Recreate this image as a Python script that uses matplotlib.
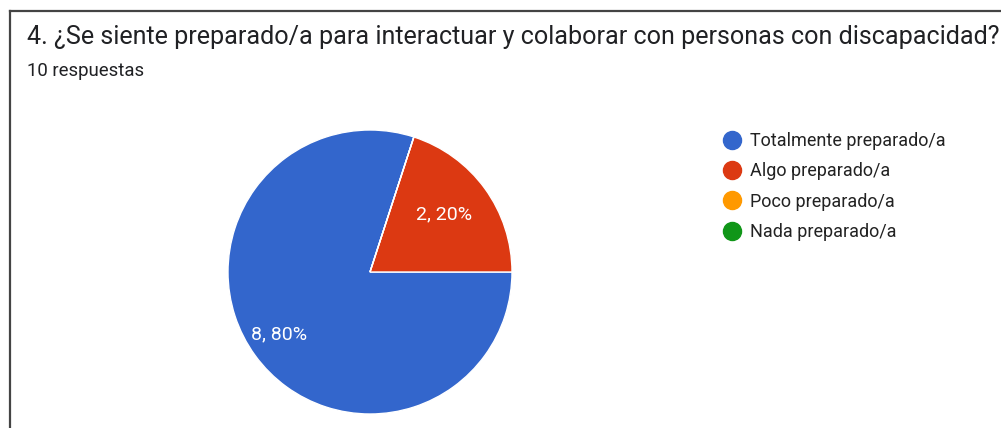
import matplotlib
matplotlib.use('Agg')
import numpy as np
import matplotlib.pyplot as plt
from matplotlib.lines import Line2D

plt.rcParams['font.family'] = ['Roboto', 'DejaVu Sans']

title = '4. ¿Se siente preparado/a para interactuar y colaborar con personas con discapacidad?'
subtitle = '10 respuestas'
categories = ['Totalmente preparado/a', 'Algo preparado/a', 'Poco preparado/a', 'Nada preparado/a']
counts = [8, 2, 0, 0]
colors = ['#3366cc', '#dc3912', '#ff9900', '#109618']

W, H = 1001, 428
fig = plt.figure(figsize=(W / 100, H / 100), dpi=100)

# card frame (only left and top edges are in view)
fig.add_artist(Line2D([10 / W, 10 / W], [0, 1 - 11 / H], color='#444444', lw=1.6))
fig.add_artist(Line2D([10 / W, 1], [1 - 11 / H, 1 - 11 / H], color='#444444', lw=1.6))

fig.text(27 / W, 1 - 44 / H, title, fontsize=18.05, color='#202124', va='baseline')
fig.text(27 / W, 1 - 76 / H, subtitle, fontsize=13.4, color='#202124', va='baseline')

# pie
cx, cy, r = 370, 272, 142
ax = fig.add_axes([(cx - r) / W, (H - cy - r) / H, 2 * r / W, 2 * r / H])
total = sum(counts)


def fmt(c):
    return '' if c == 0 else f'{c}, {100 * c / total:.0f}%'


wedges, texts = ax.pie(counts, colors=colors, startangle=72, counterclock=True,
                       wedgeprops=dict(edgecolor='white', linewidth=1),
                       labels=[fmt(c) for c in counts],
                       labeldistance=0.67,
                       textprops=dict(color='white', fontsize=14))
# google puts the big slice label further out
for w, t in zip(wedges, texts):
    if t.get_text():
        ang = np.deg2rad((w.theta1 + w.theta2) / 2)
        d = 0.77 if (w.theta2 - w.theta1) > 180 else 0.67
        t.set_position((d * np.cos(ang) - 0.02, d * np.sin(ang) + 0.01))
        t.set_ha('center')
        t.set_va('center')
ax.set_xlim(-1, 1)
ax.set_ylim(-1, 1)
ax.set_aspect('equal')
ax.axis('off')

handles = [Line2D([], [], marker='o', linestyle='', markersize=13, markerfacecolor=c,
                  markeredgecolor=c) for c in colors]
fig.legend(handles, categories, loc='upper left', bbox_to_anchor=(714 / W, 1 - 123 / H),
           frameon=False, fontsize=13, labelcolor='#222222', handlelength=1.0,
           handletextpad=0.5, labelspacing=0.68, borderpad=0)

fig.savefig('out.png', dpi=100)
